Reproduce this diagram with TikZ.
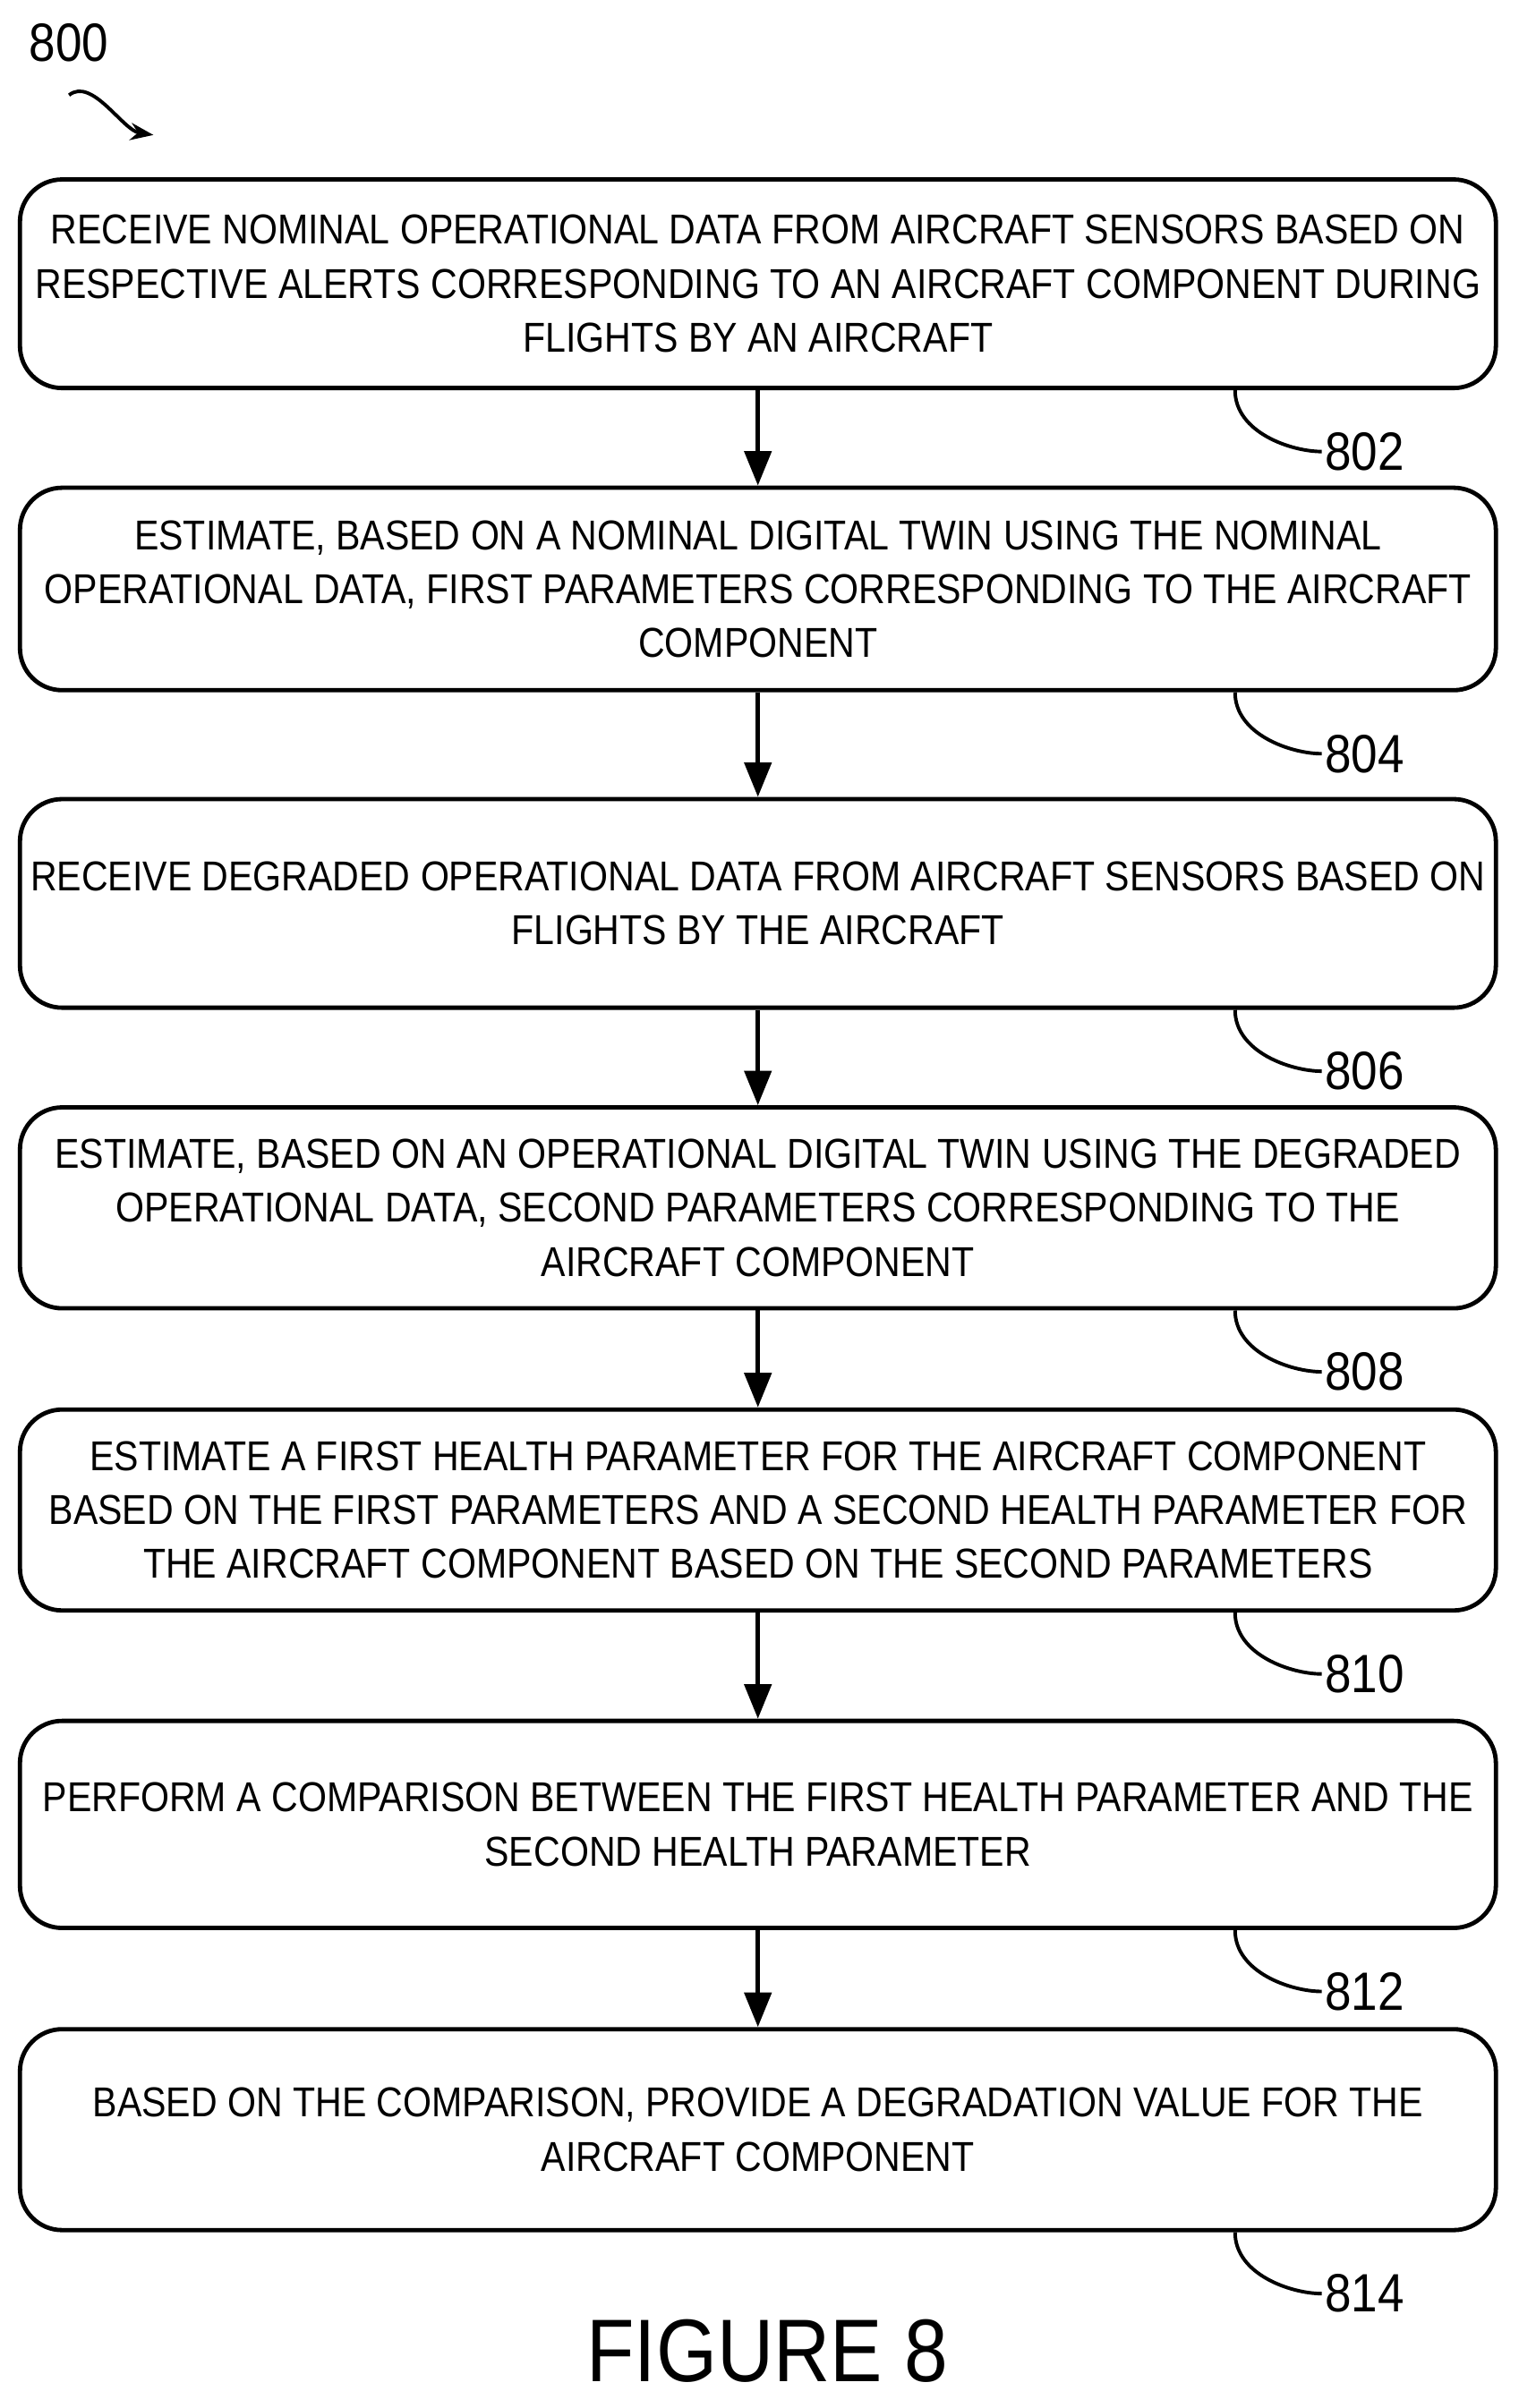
\documentclass[tikz,border=0pt]{standalone}
\usepackage{fontspec}
\setmainfont{Liberation Sans}[FakeStretch=0.88]
\usetikzlibrary{arrows.meta}
\begin{document}
\begin{tikzpicture}[
  stepbox/.style={draw,line width=1.6pt,rounded corners=0.55cm,minimum width=19.24cm,align=center,font=\fontsize{15.5}{20}\selectfont,inner sep=0pt},
  flow/.style={line width=1.6pt,-{Triangle[length=0.45cm,width=0.35cm]}},
  lead/.style={line width=1.3pt},
  lbl/.style={font=\fontsize{20}{22}\selectfont,anchor=west,inner sep=1pt}]
\useasboundingbox (0,0) rectangle (19.8,-31.4);
\node[font=\fontsize{20}{22}\selectfont] (n800) at (0.9,-0.56) {800};
\coordinate (sa) at (0.9,-1.24);
\coordinate (sb) at (2.0,-1.76);
\draw[lead,-{Stealth[length=0.3cm]}] (sa) .. controls (1.2,-1.0) and (1.6,-1.7) .. (sb);
\node[stepbox,minimum height=2.72cm] (b1) at (9.88,-3.70) {RECEIVE NOMINAL OPERATIONAL DATA FROM AIRCRAFT SENSORS BASED ON\\RESPECTIVE ALERTS CORRESPONDING TO AN AIRCRAFT COMPONENT DURING\\FLIGHTS BY AN AIRCRAFT};
\node[stepbox,minimum height=2.64cm] (b2) at (9.88,-7.68) {ESTIMATE, BASED ON A NOMINAL DIGITAL TWIN USING THE NOMINAL\\OPERATIONAL DATA, FIRST PARAMETERS CORRESPONDING TO THE AIRCRAFT\\COMPONENT};
\node[stepbox,minimum height=2.72cm] (b3) at (9.88,-11.78) {RECEIVE DEGRADED OPERATIONAL DATA FROM AIRCRAFT SENSORS BASED ON\\FLIGHTS BY THE AIRCRAFT};
\node[stepbox,minimum height=2.62cm] (b4) at (9.88,-15.75) {ESTIMATE, BASED ON AN OPERATIONAL DIGITAL TWIN USING THE DEGRADED\\OPERATIONAL DATA, SECOND PARAMETERS CORRESPONDING TO THE\\AIRCRAFT COMPONENT};
\node[stepbox,minimum height=2.62cm] (b5) at (9.88,-19.69) {ESTIMATE A FIRST HEALTH PARAMETER FOR THE AIRCRAFT COMPONENT\\BASED ON THE FIRST PARAMETERS AND A SECOND HEALTH PARAMETER FOR\\THE AIRCRAFT COMPONENT BASED ON THE SECOND PARAMETERS};
\node[stepbox,minimum height=2.70cm] (b6) at (9.88,-23.79) {PERFORM A COMPARISON BETWEEN THE FIRST HEALTH PARAMETER AND THE\\SECOND HEALTH PARAMETER};
\node[stepbox,minimum height=2.62cm] (b7) at (9.88,-27.77) {BASED ON THE COMPARISON, PROVIDE A DEGRADATION VALUE FOR THE\\AIRCRAFT COMPONENT};
\foreach \a/\b in {b1/b2,b2/b3,b3/b4,b4/b5,b5/b6,b6/b7}{\draw[flow] (\a.south) -- (\b.north);}
\foreach \b/\t in {b1/802,b2/804,b3/806,b4/808,b5/810,b6/812,b7/814}{
  \coordinate (c\t) at ([xshift=6.22cm]\b.south);
  \node[lbl] (l\t) at ([xshift=7.35cm,yshift=-0.8cm]\b.south) {\t};
  \draw[lead] (c\t) .. controls ([yshift=-0.55cm]c\t) and ([xshift=-0.4cm]l\t.west) .. (l\t.west);
}
\node[font=\fontsize{33}{36}\selectfont] (fig) at (10.0,-30.66) {FIGURE 8};
\end{tikzpicture}
\end{document}
